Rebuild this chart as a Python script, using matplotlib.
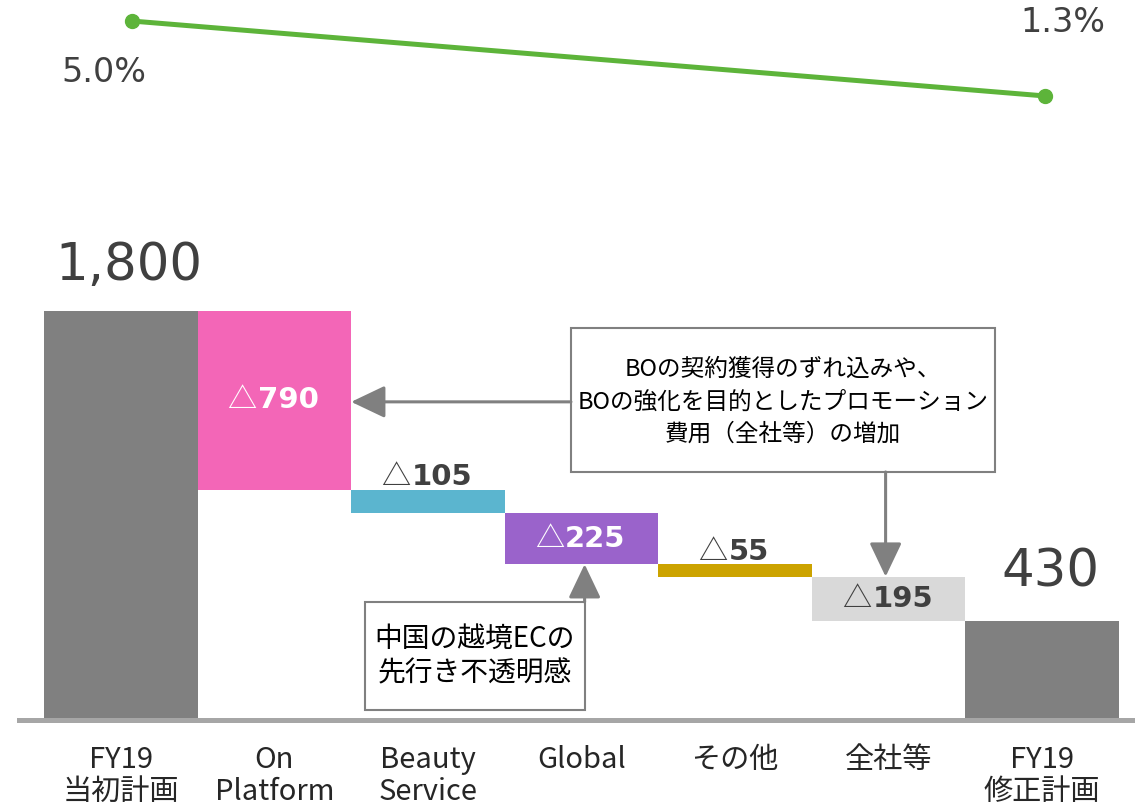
import matplotlib
matplotlib.use('Agg')
import matplotlib.pyplot as plt
from matplotlib.patches import Rectangle

plt.rcParams['font.family'] = ['DejaVu Sans', 'Noto Sans CJK JP']

JP = ['Noto Sans CJK JP', 'DejaVu Sans']
DARK = '#404040'
ARROW = '#808080'

categories = ['FY19\n当初計画', 'On\nPlatform', 'Beauty\nService', 'Global',
              'その他', '全社等', 'FY19\n修正計画']
start_value = 1800
decreases = [790, 105, 225, 55, 195]
end_value = 430
margin_pct = [5.0, 1.3]

bar_colors = ['#808080', '#F366B7', '#5BB5CF', '#9A63CB', '#CCA300', '#D9D9D9', '#808080']
inside_label = [True, False, True, False, True]
label_colors = ['white', DARK, 'white', DARK, DARK]

note_top = 'BOの契約獲得のずれ込みや、\nBOの強化を目的としたプロモーション\n費用（全社等）の増加'
note_low = '中国の越境ECの\n先行き不透明感'


def delta_label(ax, x, y, value, color, va, dy):
    # bold number, with a thin CJK triangle set just left of it
    num = ax.annotate(f'{value}', (x, y), xytext=(10, dy), textcoords='offset points',
                      ha='center', va=va, fontsize=21, fontweight='bold', color=color,
                      zorder=3)
    ax.annotate('△', xy=(0, 0.5), xycoords=num, xytext=(-1, 0), textcoords='offset points',
                ha='right', va='center', fontsize=21, family=JP, color=color, zorder=3)


fig = plt.figure(figsize=(11.35, 8.05), dpi=100)
ax = fig.add_axes([0.015, 0.0932, 0.985, 0.9068])
ax.set_xlim(-0.676, 6.604)
ax.set_ylim(-53, 3175)

# totals
ax.bar(0, start_value, width=1.0, color=bar_colors[0], zorder=2)
ax.bar(6, end_value, width=1.0, color=bar_colors[6], zorder=2)
ax.annotate(f'{start_value:,}', (0, start_value), xytext=(6, 22), textcoords='offset points',
            ha='center', va='baseline', fontsize=37, color=DARK)
ax.annotate(f'{end_value:,}', (6, end_value), xytext=(6, 25), textcoords='offset points',
            ha='center', va='baseline', fontsize=37, color=DARK)

# floating decrease bars
level = start_value
tops = []
for i, d in enumerate(decreases):
    x = i + 1
    bottom = level - d
    ax.bar(x, d, bottom=bottom, width=1.0, color=bar_colors[x], zorder=2)
    tops.append(level)
    if inside_label[i]:
        delta_label(ax, x, bottom + d / 2, d, label_colors[i], 'center', 0)
    else:
        delta_label(ax, x, level, d, label_colors[i], 'baseline', 3)
    level = bottom

# base line
ax.axhline(-11, color='#A6A6A6', lw=3.6, zorder=1)

ax.set_xticks(range(len(categories)))
ax.set_xticklabels(categories, fontsize=21, family=JP, color='#262626', linespacing=1.08)
ax.tick_params(axis='x', length=0, pad=11)
ax.set_yticks([])
for s in ax.spines.values():
    s.set_visible(False)

# callout boxes
arrow_style = dict(arrowstyle='-|>,head_length=2.1,head_width=1.0', mutation_scale=10,
                   color=ARROW, lw=2.2, shrinkA=0, shrinkB=0)
ax.add_patch(Rectangle((2.931, 1088), 2.76, 637, facecolor='white', edgecolor=ARROW,
                       lw=1.5, zorder=4))
ax.text(4.311, 1398, note_top, ha='center', va='center', fontsize=17, family=JP,
        color='black', linespacing=1.52, zorder=5)
ax.annotate('', xy=(1.5, 1398), xytext=(2.931, 1398), arrowprops=arrow_style, zorder=4)
ax.annotate('', xy=(4.98, tops[4]), xytext=(4.98, 1088), arrowprops=arrow_style, zorder=4)

ax.add_patch(Rectangle((1.59, 35), 1.43, 478, facecolor='white', edgecolor=ARROW,
                       lw=1.5, zorder=4))
ax.text(2.306, 272, note_low, ha='center', va='center', fontsize=20, family=JP,
        color='black', linespacing=1.2, zorder=5)
ax.annotate('', xy=(3.02, tops[2] - decreases[2]), xytext=(3.02, 513),
            arrowprops=arrow_style, zorder=4)

# margin line on its own scale
ax2 = ax.twinx()
ax2.set_ylim(-29.98, 6.036)
ax2.plot([0.07, 6.02], margin_pct, color='#5DB43A', lw=3.6, marker='o', markersize=10,
         zorder=3)
ax2.annotate(f'{margin_pct[0]:.1f}%', (0.07, margin_pct[0]), xytext=(-20, -37),
             textcoords='offset points', ha='center', va='center', fontsize=24, color=DARK)
ax2.annotate(f'{margin_pct[1]:.1f}%', (6.02, margin_pct[1]), xytext=(13, 53),
             textcoords='offset points', ha='center', va='center', fontsize=24, color=DARK)
ax2.set_yticks([])
for s in ax2.spines.values():
    s.set_visible(False)

fig.savefig('out.png', dpi=100)
